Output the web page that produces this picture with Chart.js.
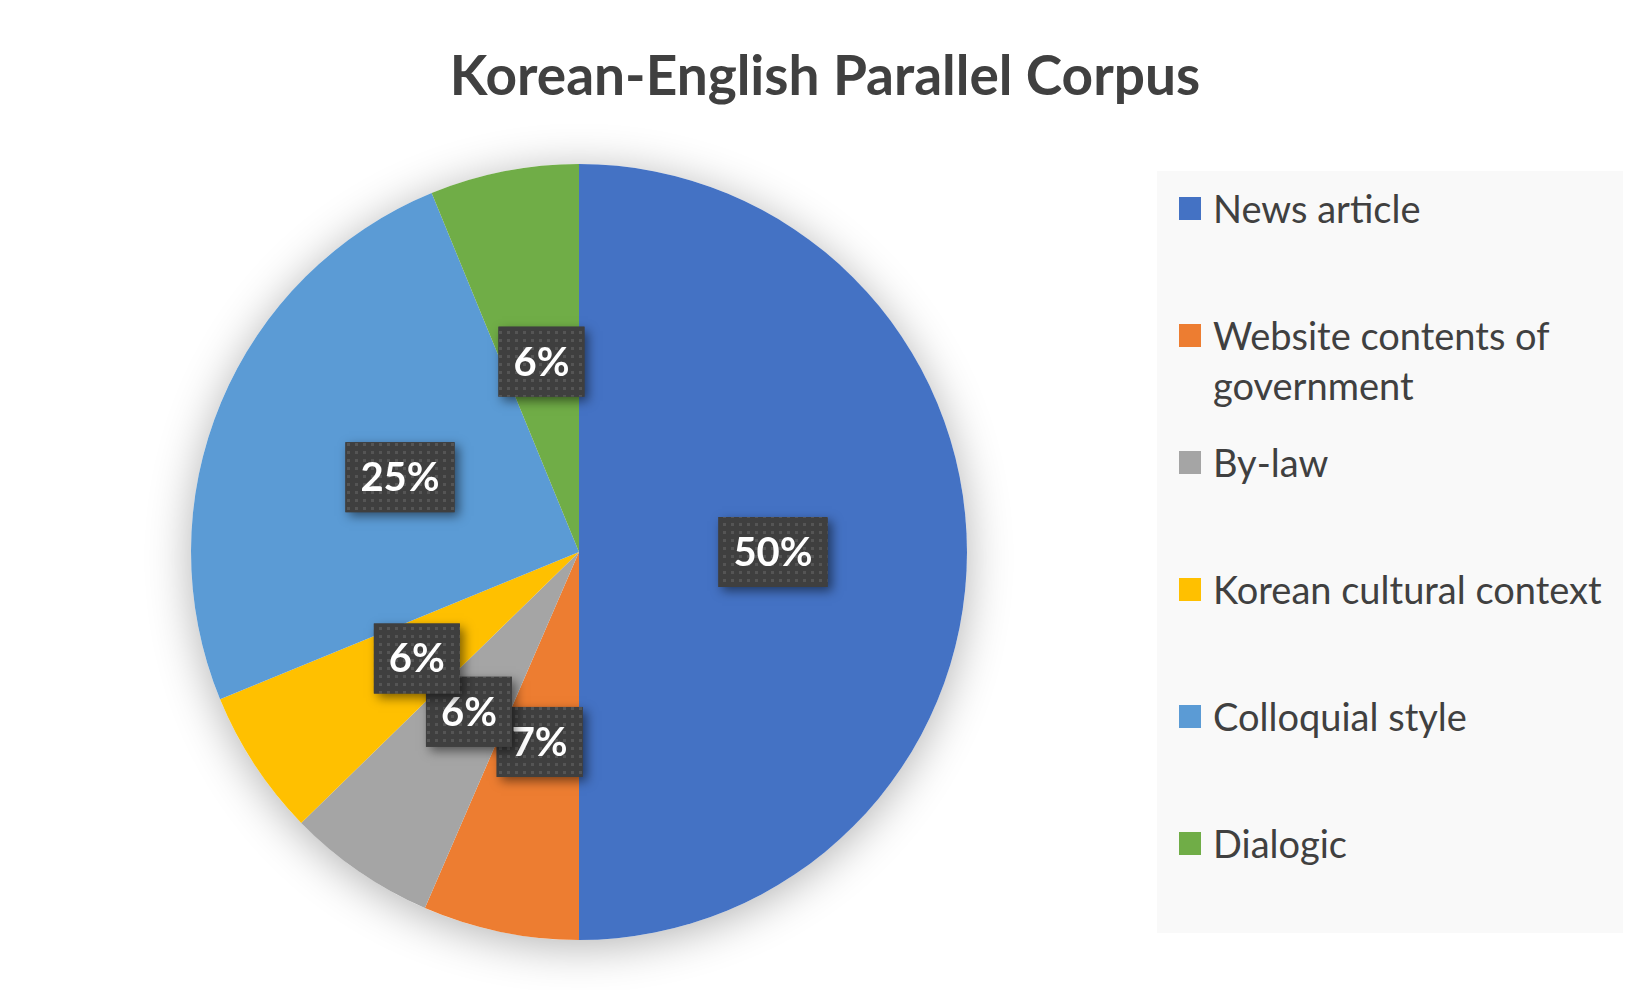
<!DOCTYPE html>
<html>
<head>
<meta charset="utf-8">
<script src="https://cdn.jsdelivr.net/npm/chart.js@4.4.1/dist/chart.umd.min.js"></script>
<style>
  body { margin: 0; background: #fff; font-family: Lato, 'Open Sans', sans-serif; }
  #wrap { position: relative; width: 1650px; height: 990px; }
  #corpusChart { position: absolute; left: 0; top: 0; }
  #title { position: absolute; left: 0; top: 40px; width: 1650px; margin: 0; text-align: center;
           font-size: 55px; line-height: 68px; font-weight: bold; color: #404040; }
  #legend { position: absolute; left: 1157px; top: 171px; width: 466px; height: 762px; background: #f9f9f9; }
  .item { position: absolute; left: 22px; display: flex; align-items: flex-start; }
  .item i { display: block; width: 22px; height: 23px; margin-top: 14px; margin-right: 12px; }
  .item span { display: block; width: 410px; font-size: 38px; line-height: 50px; color: #404040; }
</style>
</head>
<body>
<div id="wrap">
  <canvas id="corpusChart" width="1650" height="990"></canvas>
  <h1 id="title">Korean-English Parallel Corpus</h1>
  <div id="legend"></div>
</div>
<script>
const categories = ['News article', 'Website contents of government', 'By-law', 'Korean cultural context', 'Colloquial style', 'Dialogic'];
const shares = [50, 6.5, 6.2, 6.1, 25, 6.2];
const colors = ['#4472C4', '#ED7D31', '#A5A5A5', '#FFC000', '#5B9BD5', '#70AD47'];

document.getElementById('legend').innerHTML = categories.map((name, i) => `
  <div class="item" style="top:${12 + i * 127}px">
    <i style="background:${colors[i]}"></i>
    <span>${name}</span>
  </div>
`).join('');

// soft shadow under the whole pie
const pieShadow = {
  id: 'pieShadow',
  beforeDatasetsDraw(chart) {
    const arc = chart.getDatasetMeta(0).data[0];
    const ctx = chart.ctx;
    ctx.save();
    ctx.shadowColor = 'rgba(0,0,0,0.3)';
    ctx.shadowBlur = 45;
    ctx.shadowOffsetY = 6;
    ctx.beginPath();
    ctx.arc(arc.x, arc.y, arc.outerRadius, 0, Math.PI * 2);
    ctx.fillStyle = '#fff';
    ctx.fill();
    ctx.restore();
  }
};

// dark dotted boxes with the percentages
const dotCanvas = document.createElement('canvas');
dotCanvas.width = 8;
dotCanvas.height = 8;
const dctx = dotCanvas.getContext('2d');
dctx.fillStyle = '#3f3f3f';
dctx.fillRect(0, 0, 8, 8);
dctx.fillStyle = '#555555';
dctx.fillRect(3, 3, 3, 3);

const boxLabels = {
  id: 'boxLabels',
  afterDatasetsDraw(chart) {
    const ctx = chart.ctx;
    const pattern = ctx.createPattern(dotCanvas, 'repeat');
    chart.getDatasetMeta(0).data.forEach((arc, i) => {
      const p = arc.getCenterPoint();
      const text = Math.round(shares[i]) + '%';
      ctx.save();
      ctx.font = 'bold 40px Lato';
      const w = ctx.measureText(text).width + 30;
      const h = 70;
      const x = p.x - w / 2, y = p.y - h / 2;
      ctx.shadowColor = 'rgba(0,0,0,0.5)';
      ctx.shadowBlur = 10;
      ctx.shadowOffsetX = 4;
      ctx.shadowOffsetY = 4;
      ctx.fillStyle = '#3f3f3f';
      ctx.fillRect(x, y, w, h);
      ctx.shadowColor = 'transparent';
      ctx.fillStyle = pattern;
      ctx.fillRect(x, y, w, h);
      ctx.fillStyle = '#fff';
      ctx.textAlign = 'center';
      ctx.textBaseline = 'middle';
      ctx.fillText(text, p.x, p.y + 1);
      ctx.restore();
    });
  }
};

new Chart(document.getElementById('corpusChart'), {
  type: 'pie',
  data: {
    labels: categories,
    datasets: [{ data: shares, backgroundColor: colors, borderWidth: 0, hoverOffset: 0 }]
  },
  options: {
    responsive: false,
    animation: false,
    layout: { padding: { left: 191, right: 683, top: 164, bottom: 50 } },
    plugins: {
      legend: { display: false },
      tooltip: { enabled: false },
      title: { display: false }
    }
  },
  plugins: [pieShadow, boxLabels]
});
</script>
</body>
</html>
